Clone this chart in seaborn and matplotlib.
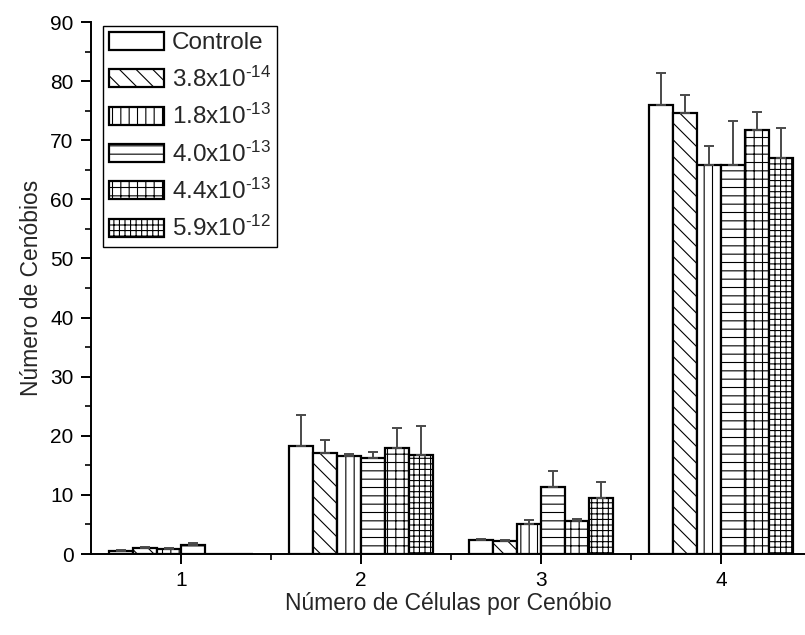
import matplotlib
matplotlib.use("Agg")
import matplotlib.pyplot as plt
import numpy as np
import pandas as pd
import seaborn as sns
from matplotlib.patches import Patch
from matplotlib.ticker import FixedLocator, MultipleLocator

# Categories on the x axis
cell_counts = ["1", "2", "3", "4"]

# Treatment series (legend labels); exponents written with a short hyphen
series_labels = [
    "Controle",
    "3.8x10$^{\\mathregular{\u2010}14}$",
    "1.8x10$^{\\mathregular{\u2010}13}$",
    "4.0x10$^{\\mathregular{\u2010}13}$",
    "4.4x10$^{\\mathregular{\u2010}13}$",
    "5.9x10$^{\\mathregular{\u2010}12}$",
]

# Mean number of coenobia per series
mean_controle = [0.55, 18.2, 2.4, 75.9]
mean_38e14 = [1.0, 17.1, 2.2, 74.6]
mean_18e13 = [0.8, 16.5, 5.0, 65.8]
mean_40e13 = [1.6, 16.3, 11.3, 65.8]
mean_44e13 = [0.0, 18.0, 5.5, 71.7]
mean_59e12 = [0.0, 16.7, 9.4, 67.0]

# Standard deviation (upper error bar) per series
err_controle = [0.05, 5.3, 0.2, 5.4]
err_38e14 = [0.2, 2.2, 0.2, 3.1]
err_18e13 = [0.2, 0.5, 0.7, 3.2]
err_40e13 = [0.2, 0.9, 2.7, 7.5]
err_44e13 = [0.0, 3.4, 0.4, 3.0]
err_59e12 = [0.0, 4.9, 2.8, 5.0]

means = [mean_controle, mean_38e14, mean_18e13, mean_40e13, mean_44e13, mean_59e12]
errors = [err_controle, err_38e14, err_18e13, err_40e13, err_44e13, err_59e12]
hatches = ["", "\\\\", "||", "--", "++", "+++"]

rows = []
for lab, vals in zip(series_labels, means):
    for cat, v in zip(cell_counts, vals):
        rows.append({"cells": cat, "value": v, "serie": lab})
df = pd.DataFrame(rows)

sns.set_style("ticks")
plt.rcParams["font.family"] = ["Liberation Sans", "DejaVu Sans"]
plt.rcParams["mathtext.fontset"] = "custom"
plt.rcParams["mathtext.rm"] = "Liberation Sans"
plt.rcParams["mathtext.it"] = "Liberation Sans:italic"
plt.rcParams["mathtext.bf"] = "Liberation Sans:bold"
plt.rcParams["hatch.linewidth"] = 0.8
plt.rcParams["hatch.color"] = "black"

fig = plt.figure(figsize=(8.05, 6.35), dpi=100)
ax = fig.add_axes([91 / 805, (635 - 554) / 635, (805 - 91) / 805, (554 - 22) / 635])

sns.barplot(
    data=df, x="cells", y="value", hue="serie", order=cell_counts,
    hue_order=series_labels, palette=["white"] * 6, edgecolor="black",
    linewidth=1.6, width=0.8, ax=ax, legend=False, errorbar=None,
)

for cont, hatch, errs in zip(ax.containers, hatches, errors):
    xs, ys, es = [], [], []
    for patch, e in zip(cont.patches, errs):
        patch.set_hatch(hatch)
        patch.set_facecolor("white")
        patch.set_edgecolor("black")
        if e > 0:
            xs.append(patch.get_x() + patch.get_width() / 2)
            ys.append(patch.get_height())
            es.append(e)
    if xs:
        ax.errorbar(xs, ys, yerr=[np.zeros(len(es)), es], fmt="none",
                    ecolor="#4a4a4a", elinewidth=1.4, capsize=3.6,
                    capthick=1.4, zorder=1)

ax.set_xlim(-0.5, -0.5 + 714 / 180)
ax.set_ylim(0, 90)
ax.yaxis.set_major_locator(MultipleLocator(10))
ax.yaxis.set_minor_locator(MultipleLocator(5))
ax.xaxis.set_minor_locator(FixedLocator([0.5, 1.5, 2.5]))
ax.set_xticks(range(len(cell_counts)))
ax.set_xticklabels(cell_counts)

ax.tick_params(axis="both", which="major", direction="out", length=7.5,
               width=1.4, labelsize=15, colors="black", pad=5)
ax.tick_params(axis="both", which="minor", direction="out", length=4.5,
               width=1.4)
for side in ("top", "right"):
    ax.spines[side].set_visible(False)
for side in ("left", "bottom"):
    ax.spines[side].set_linewidth(1.4)
    ax.spines[side].set_color("black")

ax.set_xlabel("Número de Células por Cenóbio", fontsize=16.5, labelpad=1.5)
ax.set_ylabel("Número de Cenóbios", fontsize=16.5, labelpad=5)

handles = [Patch(facecolor="white", edgecolor="black", hatch=h, linewidth=1.6)
           for h in hatches]
leg = ax.legend(handles, series_labels, loc="upper left",
                bbox_to_anchor=(12 / 714, 1 - 4 / 532), frameon=True,
                fancybox=False, framealpha=1, edgecolor="black",
                fontsize=17.5, handlelength=2.25, handleheight=0.75,
                handletextpad=0.32, labelspacing=0.5, borderpad=0.25,
                borderaxespad=0)
leg.get_frame().set_linewidth(1.0)

fig.savefig("out.png", dpi=100)
